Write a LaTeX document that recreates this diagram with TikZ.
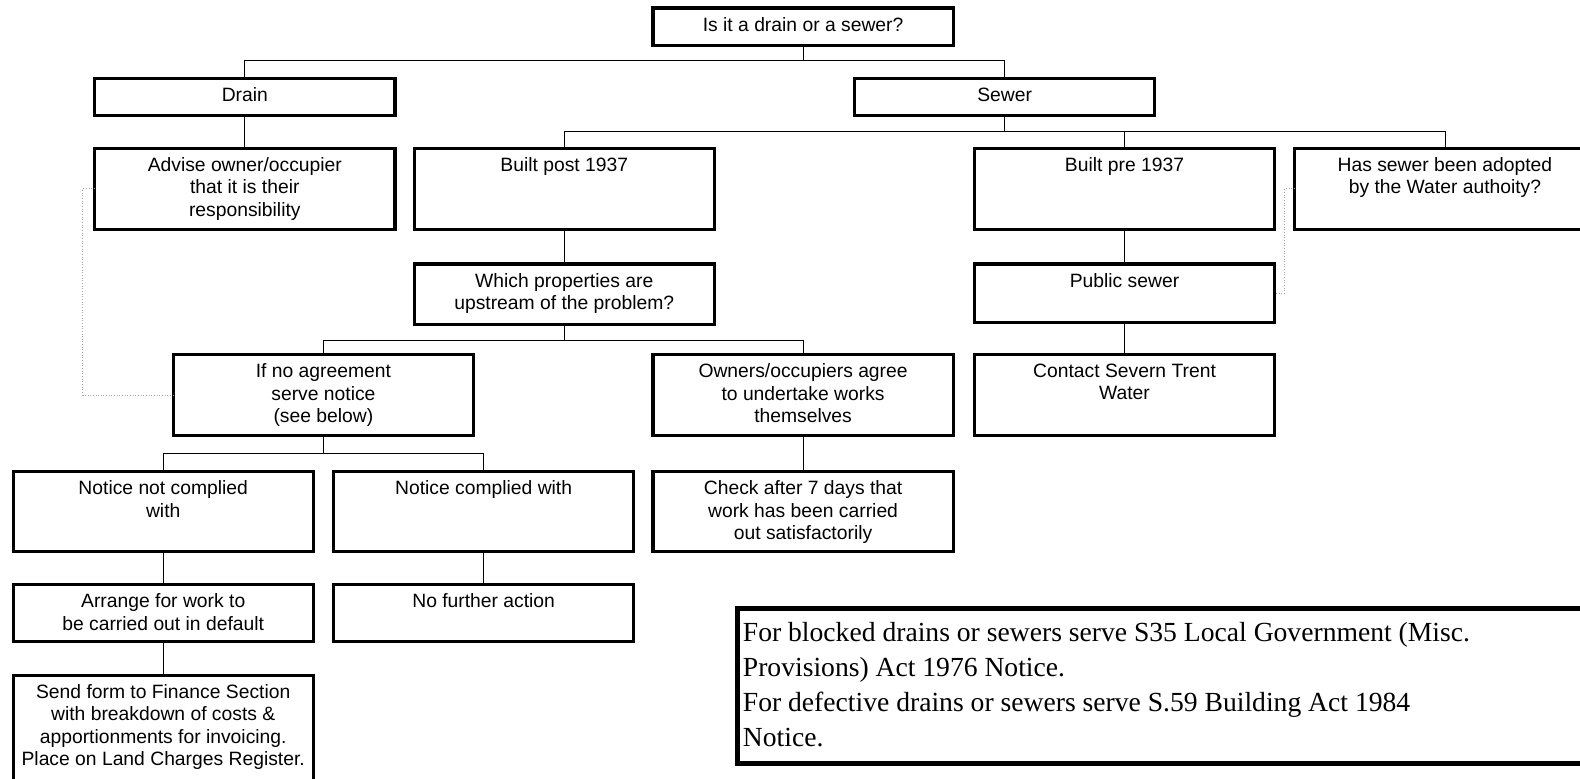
\documentclass[tikz,border=0pt]{standalone}
\usepackage{fontspec}
\setmainfont{Liberation Sans}
\newfontfamily\notefont{Liberation Serif}
\usepackage{tikz}

\tikzset{
  chartbox/.style={draw, line width=1.8pt, inner sep=0pt, outer sep=0pt, anchor=north west,
    font=\fontsize{10.9}{12.7}\selectfont,
    execute at begin node={\begin{minipage}[c][#1][t]{5.96cm}\centering\vspace*{5.2pt}},
    execute at end node={\end{minipage}}},
  notebox/.style={draw, line width=2.6pt, inner sep=0pt, outer sep=0pt, anchor=north west,
    font=\notefont\fontsize{15.6}{19.6}\selectfont,
    execute at begin node={\begin{minipage}[c][3.08cm][t]{18cm}\raggedright\leftskip=3pt\vspace*{8pt}},
    execute at end node={\end{minipage}}},
  joinline/.style={line width=0.5pt},
  linkline/.style={densely dotted, gray!70, line width=0.5pt},
}

\begin{document}
\begin{tikzpicture}[x=0.02cm, y=-0.02cm]
  \useasboundingbox (0,0) rectangle (1568,773);

  % Decision boxes
  \node[chartbox=0.74cm] (question) at (648,8) {Is it a drain or a sewer?};
  \node[chartbox=0.74cm] (drain) at (94,78) {Drain};
  \node[chartbox=0.74cm] (sewer) at (848,78) {Sewer};
  \node[chartbox=1.62cm] (advise) at (94,147) {Advise owner/occupier\\that it is their\\responsibility};
  \node[chartbox=1.62cm] (post) at (411,147) {Built post 1937};
  \node[chartbox=1.62cm] (pre) at (967,147) {Built pre 1937};
  \node[chartbox=1.62cm] (adopted) at (1285,147) {Has sewer been adopted\\by the Water authoity?};
  \node[chartbox=1.2cm] (upstream) at (411,262) {Which properties are\\upstream of the problem?};
  \node[chartbox=1.16cm] (public) at (967,262) {Public sewer};
  \node[chartbox=1.6cm] (noagree) at (172,352) {If no agreement\\serve notice\\(see below)};
  \node[chartbox=1.6cm] (agree) at (648,352) {Owners/occupiers agree\\to undertake works\\themselves};
  \node[chartbox=1.6cm] (contact) at (967,352) {Contact Severn Trent\\Water};
  \node[chartbox=1.58cm] (notcomplied) at (13,468) {Notice not complied\\with};
  \node[chartbox=1.58cm] (complied) at (331,468) {Notice complied with};
  \node[chartbox=1.58cm] (check) at (648,468) {Check after 7 days that\\work has been carried\\out satisfactorily};
  \node[chartbox=1.14cm] (default) at (13,580) {Arrange for work to\\be carried out in default};
  \node[chartbox=1.14cm] (nofurther) at (331,580) {No further action};
  \node[chartbox=2.12cm] (finance) at (13,670) {Send form to Finance Section\\with breakdown of costs \&\\apportionments for invoicing.\\Place on Land Charges Register.};

  % Notes
  \node[notebox] (note) at (732,604) {For blocked drains or sewers serve S35 Local Government (Misc.\\Provisions) Act 1976 Notice.\\For defective drains or sewers serve S.59 Building Act 1984\\Notice.};

  % Tree lines
  \draw[joinline] (question.south) -- ++(0,15) -| (drain.north);
  \draw[joinline] (question.south) -- ++(0,15) -| (sewer.north);
  \draw[joinline] (drain.south) -- (advise.north);
  \draw[joinline] (sewer.south) -- ++(0,15) -| (post.north);
  \draw[joinline] (sewer.south) -- ++(0,15) -| (pre.north);
  \draw[joinline] (sewer.south) -- ++(0,15) -| (adopted.north);
  \draw[joinline] (post.south) -- (upstream.north);
  \draw[joinline] (upstream.south) -- ++(0,16) -| (noagree.north);
  \draw[joinline] (upstream.south) -- ++(0,16) -| (agree.north);
  \draw[joinline] (pre.south) -- (public.north);
  \draw[joinline] (public.south) -- (contact.north);
  \draw[joinline] (noagree.south) -- ++(0,18) -| (notcomplied.north);
  \draw[joinline] (noagree.south) -- ++(0,18) -| (complied.north);
  \draw[joinline] (agree.south) -- (check.north);
  \draw[joinline] (notcomplied.south) -- (default.north);
  \draw[joinline] (complied.south) -- (nofurther.north);
  \draw[joinline] (default.south) -- (finance.north);

  % Dotted links
  \draw[linkline] (advise.west) -- ++(-12,0) |- (noagree.west);
  \draw[linkline] (adopted.west) -- ++(-10,0) |- (public.east);
\end{tikzpicture}
\end{document}
